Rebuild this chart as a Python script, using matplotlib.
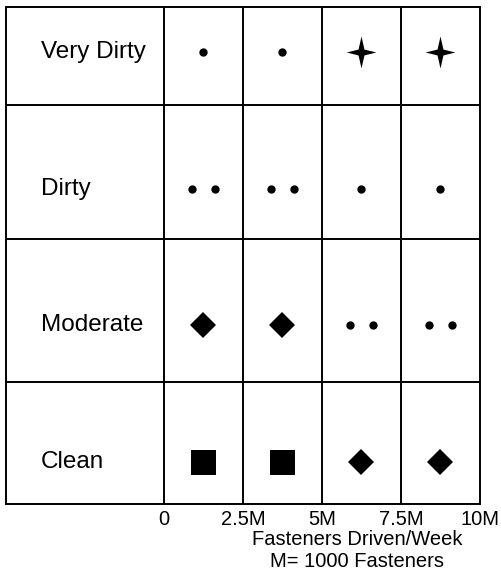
import matplotlib
matplotlib.use("Agg")
import matplotlib.pyplot as plt
from matplotlib.path import Path

plt.rcParams['font.family'] = ['Liberation Sans', 'DejaVu Sans']

# ---- data ----
categories = ["Clean", "Moderate", "Dirty", "Very Dirty"]
tick_values = [0, 2.5, 5, 7.5, 10]
tick_labels = ["0", "2.5M", "5M", "7.5M", "10M"]
x_label = "Fasteners Driven/Week\nM= 1000 Fasteners"
# symbol in each fastener-volume column, per contamination level
symbols_clean = ["square", "square", "diamond", "diamond"]
symbols_moderate = ["diamond", "diamond", "dots2", "dots2"]
symbols_dirty = ["dots2", "dots2", "dot", "dot"]
symbols_very_dirty = ["dot", "dot", "star", "star"]
symbol_rows = [symbols_clean, symbols_moderate, symbols_dirty, symbols_very_dirty]

# ---- style ----
r = 0.2
star = Path([(0, 1.08), (r, r), (1, 0), (r, -r), (0, -1.08),
             (-r, -r), (-1, 0), (-r, r), (0, 1.08)], closed=True)
styles = {
    "dot": dict(marker="o", ms=6),
    "dots2": dict(marker="o", ms=6),
    "diamond": dict(marker="D", ms=13),
    "square": dict(marker="s", ms=18),
    "star": dict(marker=star, ms=23),
}
row_edges = [-0.31, 0.58, 1.63, 2.61, 3.33]

fig = plt.figure(figsize=(5.02, 5.84), dpi=100)
ax = fig.add_axes([6/502, 1-504/584, 474/502, 497/584])
ax.set_xlim(-5, 10)
ax.set_ylim(row_edges[0], row_edges[-1])

lw = 1.4
for e in row_edges[1:-1]:
    ax.axhline(e, color="black", lw=lw)
for v in tick_values[:-1]:
    ax.axvline(v, color="black", lw=lw)
for s in ax.spines.values():
    s.set_linewidth(lw)

for yi, (cat, row) in enumerate(zip(categories, symbol_rows)):
    ax.text(-3.9, yi, cat, ha="left", va="center", fontsize=17.5)
    for ci, sym in enumerate(row):
        xc = (tick_values[ci] + tick_values[ci + 1]) / 2
        st = styles[sym]
        xs = [xc - 0.35, xc + 0.35] if sym == "dots2" else [xc]
        ax.plot(xs, [yi] * len(xs), linestyle="none", color="black",
                marker=st["marker"], markersize=st["ms"],
                markeredgewidth=0)

ax.set_yticks([])
ax.set_xticks(tick_values)
ax.set_xticklabels(tick_labels, fontsize=14.5)
ax.tick_params(axis="x", length=0, pad=4)
ax.set_xlabel(x_label, fontsize=14.5, linespacing=1.2)
ax.xaxis.set_label_coords(0.74, -0.052, transform=ax.transAxes)
ax.xaxis.label.set_va("top")

fig.savefig("out.png", dpi=100)
